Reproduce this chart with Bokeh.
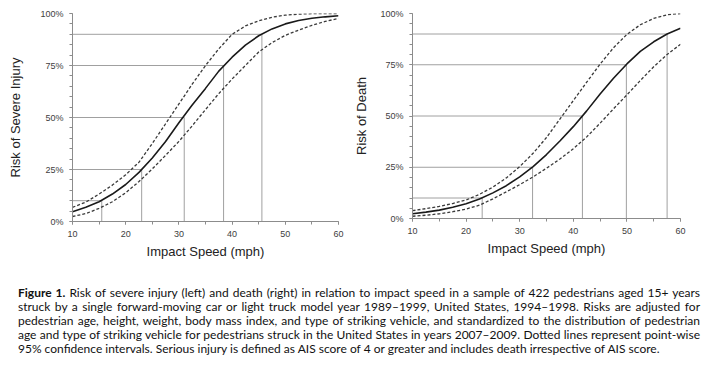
from bokeh.plotting import figure
from bokeh.models import Range1d, FixedTicker, Div
from bokeh.layouts import column, row
from bokeh.embed import file_html
from bokeh.resources import INLINE

# ---------------- data ----------------
speed = [10, 12.5, 15, 17.5, 20, 22.5, 25, 27.5, 30, 32.5, 35,
         37.5, 40, 42.5, 45, 47.5, 50, 52.5, 55, 57.5, 60]

injury_est = [4.7, 6.8, 9.5, 13.2, 17.8, 23.6, 30.5, 38.5, 47.5, 56.0, 64.0,
              72.3, 79.0, 84.8, 89.3, 92.6, 95.0, 96.6, 97.7, 98.4, 98.9]
injury_upper = [6.8, 9.3, 13.2, 17.5, 22.5, 28.5, 37.5, 47.0, 56.5, 66.0, 75.0,
                83.0, 90.0, 94.0, 96.5, 98.2, 99.2, 99.7, 99.9, 100.0, 100.0]
injury_lower = [2.4, 3.8, 6.3, 9.5, 13.8, 19.2, 25.3, 31.8, 38.5, 46.0, 53.8,
                61.5, 68.5, 75.0, 81.5, 86.0, 89.5, 92.0, 94.3, 96.2, 97.6]

death_est = [2.3, 3.1, 4.1, 5.5, 7.2, 9.5, 12.5, 16.0, 20.3, 25.3, 31.2,
             37.8, 44.8, 52.5, 60.7, 68.4, 75.4, 81.5, 86.2, 90.0, 92.8]
death_upper = [3.8, 4.8, 5.9, 7.3, 9.0, 11.8, 15.3, 19.8, 25.3, 31.8, 39.5,
               48.5, 57.5, 66.5, 75.3, 83.3, 89.8, 94.5, 97.6, 99.4, 100.0]
death_lower = [1.1, 1.6, 2.3, 3.3, 4.6, 6.5, 9.6, 13.0, 16.5, 20.3, 24.5,
               29.0, 34.0, 39.8, 46.5, 53.5, 60.3, 67.3, 74.0, 80.0, 85.0]

risk_levels = [10, 25, 50, 75, 90]
injury_speed_at_level = [15.5, 23.0, 31.0, 38.4, 45.6]
death_speed_at_level = [23.0, 32.4, 41.7, 49.9, 57.5]

x_ticks = [10, 20, 30, 40, 50, 60]
x_minor_ticks = [10, 15, 20, 25, 30, 35, 40, 45, 50, 55, 60]
y_ticks = [0, 25, 50, 75, 100]
y_tick_labels = ["0%", "25%", "50%", "75%", "100%"]
y_minor_ticks = [0, 5, 10, 15, 20, 25, 30, 35, 40, 45, 50,
                 55, 60, 65, 70, 75, 80, 85, 90, 95, 100]

caption_lines = [
    "<b>Figure 1.</b> Risk of severe injury (left) and death (right) in relation to impact speed in a sample of 422 pedestrians aged 15+ years",
    "struck by a single forward-moving car or light truck model year 1989–1999, United States, 1994–1998. Risks are adjusted for",
    "pedestrian age, height, weight, body mass index, and type of striking vehicle, and standardized to the distribution of pedestrian",
    "age and type of striking vehicle for pedestrians struck in the United States in years 2007–2009. Dotted lines represent point-wise",
    "95% confidence intervals. Serious injury is defined as AIS score of 4 or greater and includes death irrespective of AIS score.",
]

FONT = "Liberation Sans"
AXIS_GREY = "#8c8c8c"
REF_GREY = "#a0a0a0"


def make_chart(ylabel, est, upper, lower, lvl_speed, width, height,
               border_left, border_right, label_standoff):
    p = figure(width=width, height=height, output_backend="svg",
               toolbar_location=None,
               x_range=Range1d(speed[0], speed[-1]),
               y_range=Range1d(y_ticks[0], y_ticks[-1]),
               min_border_left=border_left, min_border_right=border_right,
               min_border_top=13, min_border_bottom=30)
    p.outline_line_color = None
    p.grid.grid_line_color = None
    p.background_fill_color = "white"
    p.border_fill_color = "white"

    # reference lines: horizontal from axis to curve, then down to axis
    x_start = [speed[0]] * len(risk_levels)
    y_zero = [y_ticks[0]] * len(risk_levels)
    p.segment(x0=x_start, y0=risk_levels, x1=lvl_speed, y1=risk_levels,
              line_color=REF_GREY, line_width=1)
    p.segment(x0=lvl_speed, y0=risk_levels, x1=lvl_speed, y1=y_zero,
              line_color=REF_GREY, line_width=1)

    p.line(speed, upper, line_color="#3a3a3a", line_width=1.3, line_dash="3 2")
    p.line(speed, lower, line_color="#3a3a3a", line_width=1.3, line_dash="3 2")
    p.line(speed, est, line_color="#1a1a1a", line_width=1.6)

    # x axis
    xa = p.xaxis[0]
    xa.ticker = FixedTicker(ticks=x_ticks, minor_ticks=x_minor_ticks)
    xa.axis_label = "Impact Speed (mph)"
    xa.axis_label_text_font = FONT
    xa.axis_label_text_font_size = "13px"
    xa.axis_label_text_font_style = "normal"
    xa.axis_label_text_color = "#222222"
    xa.axis_label_standoff = 4
    xa.major_label_text_font = FONT
    xa.major_label_text_font_size = "9px"
    xa.major_label_text_color = "#404040"
    xa.major_label_standoff = 6

    # y axis
    ya = p.yaxis[0]
    ya.ticker = FixedTicker(ticks=y_ticks, minor_ticks=y_minor_ticks)
    ya.major_label_overrides = {t: l for t, l in zip(y_ticks, y_tick_labels)}
    ya.axis_label = ylabel
    ya.axis_label_text_font = FONT
    ya.axis_label_text_font_size = "13px"
    ya.axis_label_text_font_style = "normal"
    ya.axis_label_text_color = "#222222"
    ya.axis_label_standoff = label_standoff
    ya.major_label_text_font = FONT
    ya.major_label_text_font_size = "9px"
    ya.major_label_text_color = "#404040"
    ya.major_label_standoff = 6

    for ax in (xa, ya):
        ax.axis_line_color = AXIS_GREY
        ax.major_tick_line_color = AXIS_GREY
        ax.minor_tick_line_color = AXIS_GREY
        ax.major_tick_in = 0
        ax.major_tick_out = 3
        ax.minor_tick_in = 0
        ax.minor_tick_out = 3
    return p


p1 = make_chart("Risk of Severe Injury", injury_est, injury_upper, injury_lower,
                injury_speed_at_level, width=350, height=261,
                border_left=72, border_right=12, label_standoff=14)
p2 = make_chart("Risk of Death", death_est, death_upper, death_lower,
                death_speed_at_level, width=345, height=258,
                border_left=62, border_right=15, label_standoff=8)

line_divs = []
for i, ln in enumerate(caption_lines):
    last = i == len(caption_lines) - 1
    align = "left" if last else "justify"
    line_divs.append(
        f"<div style='text-align:{align};text-align-last:{align};'>{ln}</div>")
caption_html = (
    "<div style=\"font-family:'Lato';font-size:12px;line-height:14px;"
    "color:#111111;width:682px;margin-left:13px;padding-top:20px;\">"
    + "".join(line_divs) + "</div>")
caption = Div(text=caption_html, width=700, height=98)

layout = column(row(p1, p2), caption)

with open("out.html", "w") as f:
    f.write(file_html(layout, INLINE))
